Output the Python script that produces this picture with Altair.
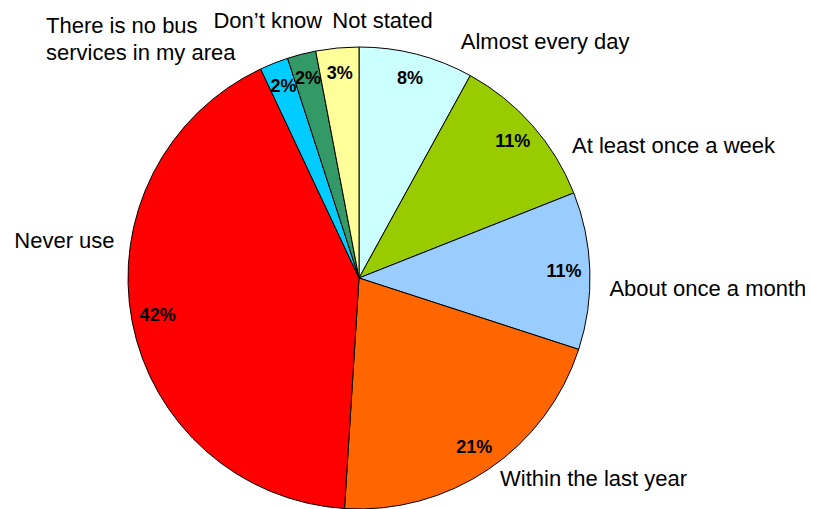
import math
import altair as alt
import pandas as pd

# ---- data ----
categories = [
    "Almost every day",
    "At least once a week",
    "About once a month",
    "Within the last year",
    "Never use",
    "There is no bus services in my area",
    "Don\u2019t know",
    "Not stated",
]
values = [8, 11, 11, 21, 42, 2, 2, 3]
labels = [
    "Almost every day",
    "At least once a week",
    "About once a month",
    "Within the last year",
    "Never use",
    "There is no bus\nservices in my area",
    "Don\u2019t know",
    "Not stated",
]
colors = ["#CCFFFF", "#99CC00", "#99CCFF", "#FF6600", "#FF0000", "#00CCFF", "#339966", "#FFFF99"]

df = pd.DataFrame({
    "category": categories,
    "value": values,
    "label": labels,
    "idx": list(range(len(categories))),
})
df["pct"] = df["value"].astype(str) + "%"

# ---- layout (styles / label placement) ----
W, H = 797, 501
CX, CY = 351, 270
R = 231
FONT = "Liberation Sans"
# per-label offsets (dx, dy, align) from the point at radius 250 on slice mid-angle
label_layout = {
    "Almost every day": (124, 13, "center"),
    "At least once a week": (127, 40, "center"),
    "About once a month": (99, 26, "center"),
    "Within the last year": (94, 1, "center"),
    "Never use": (-49, -77, "center"),
    "There is no bus services in my area": (-221, -13, "left"),
    "Don\u2019t know": (-29, -8, "center"),
    "Not stated": (47, -1, "center"),
}

color_scale = alt.Scale(domain=categories, range=colors)
base = alt.Chart(df)

pie = base.mark_arc(outerRadius=R, stroke="black", strokeWidth=1).encode(
    theta=alt.Theta("value:Q", stack=True),
    color=alt.Color("category:N", scale=color_scale, legend=None),
    order=alt.Order("idx:Q"),
    x=alt.value(CX),
    y=alt.value(CY),
)

pct = base.mark_text(
    radius=205, fontSize=18, fontWeight="bold", font=FONT,
    align="center", baseline="middle", color="black",
).encode(
    theta=alt.Theta("value:Q", stack=True),
    order=alt.Order("idx:Q"),
    text="pct:N",
    x=alt.value(CX),
    y=alt.value(CY),
)

layers = [pie, pct]
for cat in categories:
    dx, dy, al = label_layout[cat]
    lyr = base.transform_window(
        cum="sum(value)", sort=[alt.SortField("idx")], frame=[None, 0]
    ).transform_calculate(
        mid="datum.cum - datum.value / 2"
    ).transform_filter(
        alt.datum.category == cat
    ).mark_text(
        radius=250, fontSize=22, font=FONT, align=al, baseline="alphabetic",
        color="black", dx=dx, dy=dy, lineBreak="\n", lineHeight=27,
    ).encode(
        theta=alt.Theta("mid:Q", scale=alt.Scale(domain=[0, 100], range=[0, 2 * math.pi])),
        text="label:N",
        x=alt.value(CX),
        y=alt.value(CY),
    )
    layers.append(lyr)

chart = alt.layer(*layers).properties(
    width=W, height=H, autosize=alt.AutoSizeParams(type="none"), padding=0
).configure_view(stroke=None)

chart.save("out.html", embed_options={"renderer": "svg", "actions": False})
